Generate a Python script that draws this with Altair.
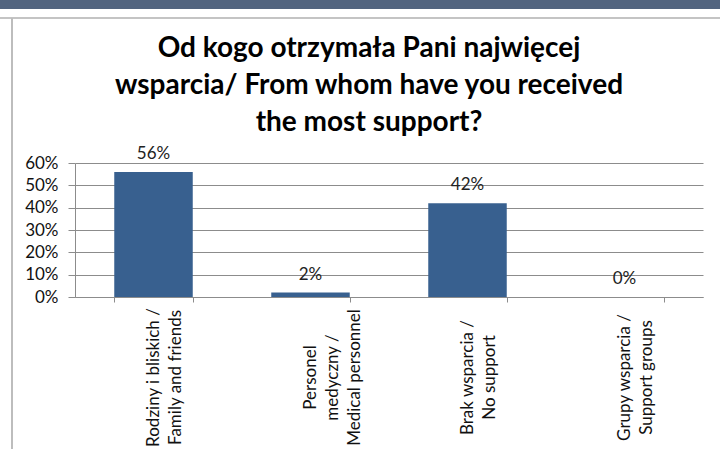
import altair as alt
import pandas as pd

categories = [
    "Rodziny i bliskich /|Family and friends",
    "Personel|medyczny /|Medical personnel",
    "Brak wsparcia /|No support",
    "Grupy wsparcia /|Support groups",
]
shares = [0.56, 0.02, 0.42, 0.0]
y_ticks = [0, 0.1, 0.2, 0.3, 0.4, 0.5, 0.6]
title_lines = [
    "Od kogo otrzymała Pani najwięcej",
    "wsparcia/ From whom have you received",
    "the most support?",
]

df = pd.DataFrame({"cat": categories, "val": shares})

FONT = "Lato"
GRID = "#8c8c8c"

x_enc = alt.X(
    "cat:N",
    sort=None,
    scale=alt.Scale(paddingInner=0.5, paddingOuter=0.25),
    axis=alt.Axis(
        title=None,
        labelAngle=270,
        labelAlign="center",
        labelBaseline="middle",
        labelExpr="split(datum.label, '|')",
        labelFont=FONT,
        labelFontSize=17,
        labelLineHeight=22,
        labelColor="#111111",
        labelPadding=75,
        labelOverlap=False,
        labelLimit=300,
        tickBand="extent",
        tickSize=5,
        tickColor=GRID,
        domainColor=GRID,
        grid=False,
    ),
)
y_enc = alt.Y(
    "val:Q",
    scale=alt.Scale(domain=[0, 0.6], nice=False),
    axis=alt.Axis(
        title=None,
        values=y_ticks,
        format=".0%",
        labelFont=FONT,
        labelFontSize=17,
        labelColor="#111111",
        labelPadding=10,
        tickSize=7,
        tickColor=GRID,
        domainColor=GRID,
        gridColor=GRID,
        grid=True,
    ),
)

base = alt.Chart(df)
bars = base.mark_bar(color="#38608f").encode(x=x_enc, y=y_enc)
labels = base.mark_text(
    baseline="alphabetic", dy=-13, font=FONT, fontSize=17, color="#222222"
).encode(x=x_enc, y=y_enc, text=alt.Text("val:Q", format=".0%"))

band = alt.Chart(df).mark_rect(color="#52647f").encode(
    x=alt.value(-75), x2=alt.value(645), y=alt.value(-163), y2=alt.value(-154)
)
top_line = alt.Chart(df).mark_rule(color="#c4c4c4", strokeWidth=2).encode(
    x=alt.value(-75), x2=alt.value(645), y=alt.value(-145)
)
left_line = alt.Chart(df).mark_rule(color="#bdbdbd", strokeWidth=2).encode(
    x=alt.value(-63), y=alt.value(-145), y2=alt.value(286)
)

chart = (
    alt.layer(band, top_line, left_line, bars, labels)
    .properties(
        width=628,
        height=134,
        padding={"left": 75, "top": 163, "right": 17, "bottom": 152},
        autosize=alt.AutoSizeParams(type="none"),
        background="white",
        title=alt.Title(
            text=title_lines,
            font=FONT,
            fontSize=28,
            fontWeight="bold",
            color="#000000",
            anchor="middle",
            baseline="top",
            dx=-20,
            offset=-137,
            lineHeight=37,
        ),
    )
    .configure_view(stroke=None)
)

chart.save("out.html", embed_options={"renderer": "svg", "actions": False})
